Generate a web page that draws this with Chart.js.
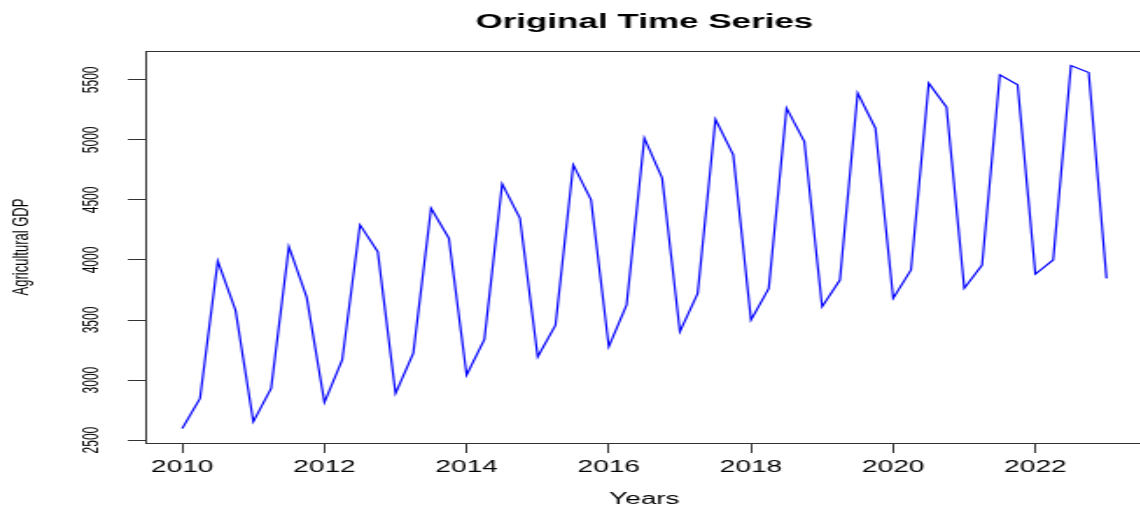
<!DOCTYPE html>
<html>
<head>
<meta charset="utf-8">
<title>Original Time Series</title>
<script src="https://cdn.jsdelivr.net/npm/chart.js"></script>
<style>
  html, body { margin: 0; padding: 0; background: #fff; overflow: hidden; }
  /* the reference picture is stretched sideways, so the chart is too */
  #wrap { position: absolute; left: 0; top: 0; width: 654px; height: 507px; transform: scaleX(1.75); transform-origin: 0 0; }
</style>
</head>
<body>
<div id="wrap"><canvas id="tsChart"></canvas></div>
<script>
const startYear = 2010;
// quarterly values, 2010 Q1 .. 2023 Q1
const agriGdp = [
  2597, 2847, 3990, 3580,
  2653, 2930, 4111, 3690,
  2814, 3167, 4292, 4069,
  2889, 3225, 4431, 4181,
  3042, 3339, 4633, 4347,
  3194, 3458, 4792, 4500,
  3278, 3625, 5014, 4681,
  3403, 3722, 5172, 4875,
  3500, 3764, 5264, 4986,
  3611, 3833, 5389, 5097,
  3681, 3917, 5472, 5272,
  3764, 3958, 5542, 5458,
  3883, 4000, 5619, 5561,
  3847
];
const yearTicks = [2010, 2012, 2014, 2016, 2018, 2020, 2022];
const gdpTicks = [2500, 3000, 3500, 4000, 4500, 5000, 5500];

const quarters = agriGdp.map((_, i) => startYear + i / 4);

Chart.defaults.font.family = '"Liberation Sans", Arial, sans-serif';
Chart.defaults.color = '#000';

const plotBox = {
  id: 'plotBox',
  afterDraw(chart) {
    const { ctx, chartArea: a } = chart;
    ctx.save();
    ctx.strokeStyle = '#333';
    ctx.lineWidth = 1;
    ctx.strokeRect(a.left + 0.5, a.top + 0.5, a.right - a.left, a.bottom - a.top);
    ctx.restore();
  }
};

const ctx = document.getElementById('tsChart');

new Chart(ctx, {
  type: 'line',
  data: {
    datasets: [{
      label: 'Agricultural GDP',
      data: quarters.map((q, i) => ({ x: q, y: agriGdp[i] })),
      borderColor: '#0000FF',
      borderWidth: 1.2,
      pointRadius: 0,
      tension: 0,
      fill: false
    }]
  },
  options: {
    responsive: true,
    maintainAspectRatio: false,
    animation: false,
    layout: { padding: 0 },
    plugins: {
      legend: { display: false },
      tooltip: { enabled: false },
      title: {
        display: true,
        text: 'Original Time Series',
        fullSize: false,
        color: '#000',
        font: { size: 20, weight: 'bold' },
        padding: { top: 10, bottom: 17 }
      }
    },
    scales: {
      x: {
        type: 'linear',
        min: 2009.48,
        max: 2023.52,
        afterBuildTicks: s => { s.ticks = yearTicks.map(v => ({ value: v })); },
        afterFit: s => { s.height = 64; },
        ticks: { font: { size: 16 }, padding: 5, maxRotation: 0, autoSkip: false, callback: v => String(v) },
        grid: { drawOnChartArea: false, tickLength: 10, color: '#333' },
        border: { display: false },
        title: { display: true, text: 'Years', font: { size: 16 }, padding: { top: 0, bottom: -2 } }
      },
      y: {
        min: 2476,
        max: 5740,
        afterBuildTicks: s => { s.ticks = gdpTicks.map(v => ({ value: v })); },
        afterFit: s => { s.width = 83; },
        ticks: { font: { size: 12 }, padding: 7, minRotation: 90, maxRotation: 90, crossAlign: 'center', autoSkip: false, callback: v => String(v) },
        grid: { drawOnChartArea: false, tickLength: 10, color: '#333' },
        border: { display: false },
        title: { display: true, text: 'Agricultural GDP', font: { size: 13 }, padding: { top: 5, bottom: 0 } }
      }
    }
  },
  plugins: [plotBox]
});
</script>
</body>
</html>
